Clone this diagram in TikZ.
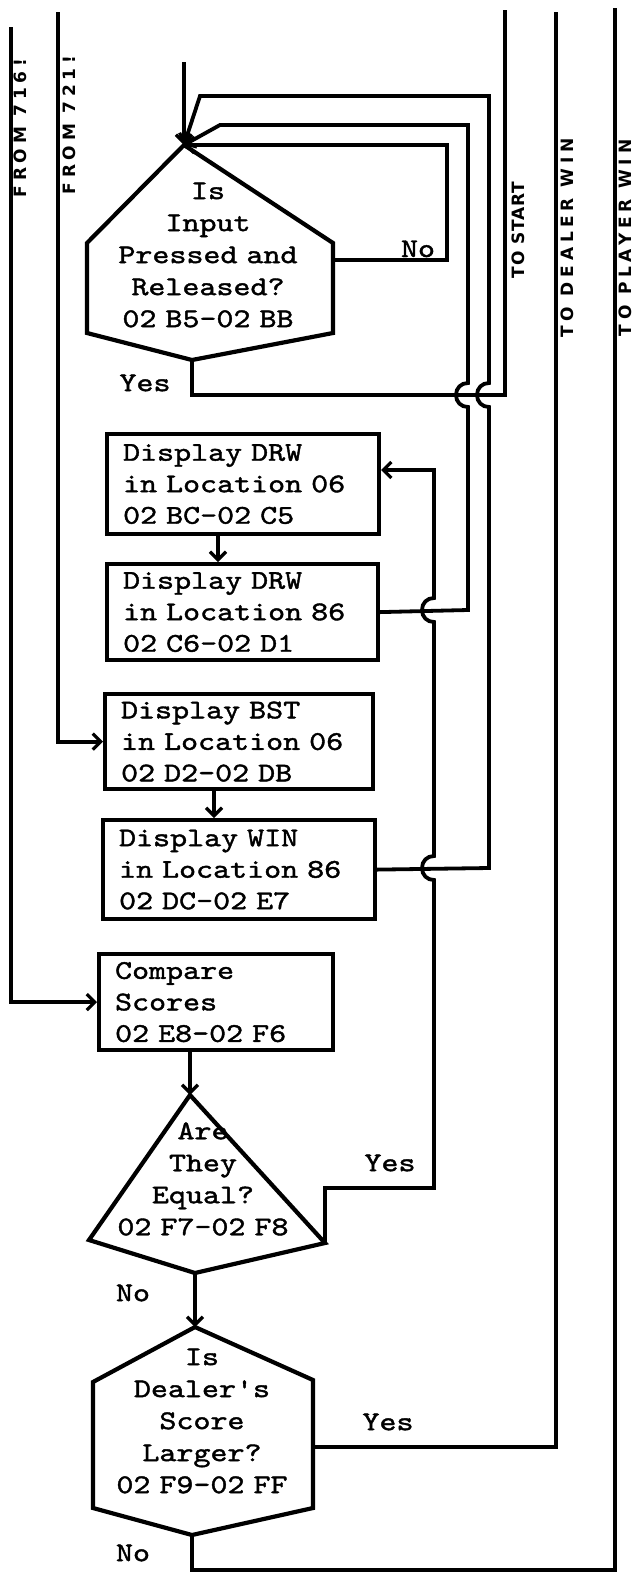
\documentclass[tikz,border=0pt]{standalone}
\usepackage{fontspec}
\newfontfamily\typewriterfont{lmmono10-regular.otf}[FakeStretch=1.2,FakeBold=1.5,WordSpace={1,0,0},Ligatures=TeXOff]
\newfontfamily\stencilfont{DejaVu Sans}[LetterSpace=28]
\usetikzlibrary{arrows.meta,calc,positioning}
\tikzset{
 fc line/.style={line width=3.8pt},
 fc arrow/.style={line width=3.8pt,-{Straight Barb[length=8pt,width=16pt,line width=3.2pt]}},
 fc shape/.style={line width=4.2pt,line join=miter},
 fc box/.style={draw,line width=4.2pt,anchor=north west,align=left,
                inner xsep=16pt,inner ysep=0pt,
                font=\typewriterfont\fontsize{27}{31.5}\selectfont},
 fc text/.style={align=center,inner sep=0pt,text width=200pt,
                 font=\typewriterfont\fontsize{27}{32}\selectfont},
 fc answer/.style={inner sep=1pt,font=\typewriterfont\fontsize{27}{32}\selectfont},
 fc tag/.style={rotate=90,inner sep=0pt,
                font=\stencilfont\bfseries\fontsize{17}{20}\selectfont}
}
\begin{document}
\begin{tikzpicture}[x=1pt,y=-1pt]
 \useasboundingbox (0,0) rectangle (633,1575);

 % decision vertices
 \coordinate (q1a) at (184,145);
 \coordinate (q1b) at (333,243);
 \coordinate (q1c) at (333,333);
 \coordinate (q1d) at (192,360);
 \coordinate (q1e) at (87,333);
 \coordinate (q1f) at (87,243);
 \coordinate (q2a) at (190,1095);
 \coordinate (q2b) at (325,1243);
 \coordinate (q2c) at (195,1273);
 \coordinate (q2d) at (89,1240);
 \coordinate (q3a) at (195,1327);
 \coordinate (q3b) at (313,1380);
 \coordinate (q3c) at (313,1508);
 \coordinate (q3d) at (192,1535);
 \coordinate (q3e) at (93,1508);
 \coordinate (q3f) at (93,1382);

 % free ends of the off-page lines
 \coordinate (entry) at (184,62);
 \coordinate (in716) at (11,27);
 \coordinate (in721) at (58,12);
 \coordinate (toStart) at (505,10);
 \coordinate (toDealer) at (556,12);
 \coordinate (toPlayer) at (615,8);

 \draw[fc shape] (q1a) -- (q1b) -- (q1c) -- (q1d) -- (q1e) -- (q1f) -- cycle;
 \draw[fc shape] (q2a) -- (q2b) -- (q2c) -- (q2d) -- cycle;
 \draw[fc shape] (q3a) -- (q3b) -- (q3c) -- (q3d) -- (q3e) -- (q3f) -- cycle;

 \node[fc text] (q1) at (208,255) {Is\\Input\\Pressed and\\Released?\\02 B5-02 BB};
 \node[fc text] (q2) at (203,1179) {Are\\They\\Equal?\\02 F7-02 F8};
 \node[fc text] (q3) at (202,1421) {Is\\Dealer's\\Score\\Larger?\\02 F9-02 FF};

 \node[fc box,minimum width=272pt,minimum height=100pt,text width=240pt] (dDrwA) at (105,432)
   {Display DRW\\in Location 06\\02 BC-02 C5};
 \node[fc box,minimum width=271pt,minimum height=96pt,text width=239pt] (dDrwB) at (105,562)
   {Display DRW\\in Location 86\\02 C6-02 D1};
 \node[fc box,minimum width=268pt,minimum height=95pt,text width=236pt] (dBst) at (103,692)
   {Display BST\\in Location 06\\02 D2-02 DB};
 \node[fc box,minimum width=272pt,minimum height=99pt,text width=240pt] (dWin) at (101,818)
   {Display WIN\\in Location 86\\02 DC-02 E7};
 \node[fc box,minimum width=234pt,minimum height=96pt,text width=202pt] (cmp) at (97,952)
   {Compare\\Scores\\02 E8-02 F6};

 % main flow
 \coordinate (a1) at (218,0);
 \coordinate (a2) at (214,0);
 \draw[fc arrow] (entry) -- (q1a);
 \draw[fc arrow] (a1 |- dDrwA.south) -- (a1 |- dDrwB.north);
 \draw[fc arrow] (a2 |- dBst.south) -- (a2 |- dWin.north);
 \draw[fc arrow] (q2a |- cmp.south) -- (q2a);
 \draw[fc arrow] (q2c) -- (q3a);
 \draw[fc arrow] (in716) |- (cmp.west);
 \draw[fc arrow] (in721) |- (dBst.west);

 % loops back to the input test, hopping over the Yes line
 \draw[fc arrow] (333,260) -- (447,260) -- (447,145) -- (q1a);
 \draw[fc arrow] (dDrwB.east) -- (468,610) -- (468,407)
   .. controls (461,407) and (456,402) .. (456,395)
   .. controls (456,388) and (461,383) .. (468,383)
   -- (468,125) -- (220,125) -- (q1a);
 \draw[fc arrow] (dWin.east) -- (489,868) -- (489,407)
   .. controls (482,407) and (477,402) .. (477,395)
   .. controls (477,388) and (482,383) .. (489,383)
   -- (489,96) -- (200,96) -- (q1a);
 \draw[fc arrow] (q2b) -- (325,1188) -- (434,1188) -- (434,880)
   .. controls (427,880) and (422,875) .. (422,868)
   .. controls (422,861) and (427,856) .. (434,856)
   -- (434,622)
   .. controls (427,622) and (422,617) .. (422,610)
   .. controls (422,603) and (427,598) .. (434,598)
   -- (434,470) -- (dDrwA.east |- 0,470);

 % exits
 \draw[fc line] (q1d) -- (192,395) -- (toStart |- 0,395) -- (toStart);
 \draw[fc line] (313,1447) -- (toDealer |- 0,1447) -- (toDealer);
 \draw[fc line] (q3d) -- (192,1570) -- (toPlayer |- 0,1570) -- (toPlayer);

 \node[fc answer,anchor=base] (noA) at (418,257) {No};
 \node[fc answer] (yesA) at (145,383) {Yes};
 \node[fc answer] (yesB) at (390,1163) {Yes};
 \node[fc answer] (noB) at (133,1293) {No};
 \node[fc answer] (yesC) at (388,1422) {Yes};
 \node[fc answer] (noC) at (133,1553) {No};

 \node[fc tag] (t716) at (20,128) {FROM 716!};
 \node[fc tag] (t721) at (69,125) {FROM 721!};
 \node[fc tag] (tStart) at (518,230) {\addfontfeature{LetterSpace=5}TO START};
 \node[fc tag] (tDealer) at (567,238) {TO DEALER WIN};
 \node[fc tag] (tPlayer) at (625,238) {TO PLAYER WIN};
\end{tikzpicture}
\end{document}
